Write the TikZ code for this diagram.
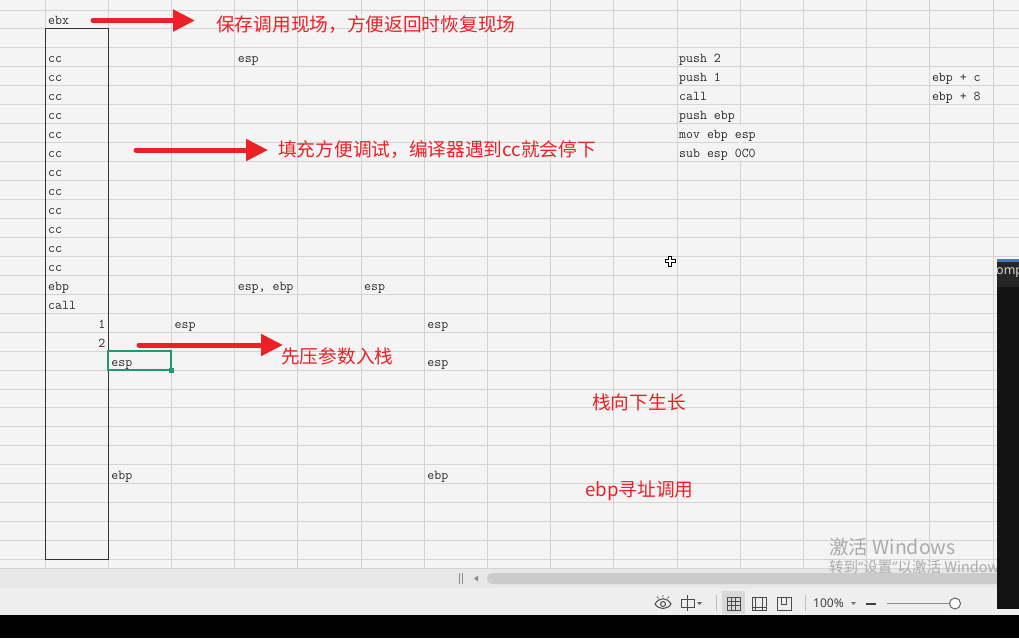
\documentclass[tikz,border=0pt]{standalone}
\usepackage{fontspec}
\newfontfamily\cjk{Noto Sans CJK SC}
\newfontfamily\uifont{Noto Sans}
\usetikzlibrary{arrows.meta}
\definecolor{bgc}{HTML}{F4F4F4}
\definecolor{gridc}{HTML}{D3D3D3}
\definecolor{redc}{HTML}{EB2127}
\definecolor{selc}{HTML}{1F9B74}
\definecolor{inkc}{HTML}{2A2A2A}
\definecolor{bandc}{HTML}{E7E7E7}
\definecolor{statc}{HTML}{EEEEEE}
\definecolor{thumbc}{HTML}{CBCBCB}
\definecolor{winc}{HTML}{131313}
\definecolor{wmc}{HTML}{ABABAB}
\definecolor{bluec}{HTML}{2F7FD9}
\newcommand\RY[1]{10+18.95*(#1)}
\newcommand\CX[1]{45+63.2*(#1)}
\begin{document}
\begin{tikzpicture}[x=1pt,y=-1pt,
  cell/.style={anchor=base west,inner sep=0pt,text=inkc,font=\ttfamily\fontsize{13.5}{13.5}\selectfont},
  note/.style={anchor=west,inner sep=0pt,text=redc,font=\cjk\fontsize{18.7}{19}\selectfont},
  redarrow/.style={draw=redc,line width=5pt,line cap=round,-{Triangle[length=22pt,width=21pt]}},
  icon/.style={draw=black!70,line width=1pt}]
\useasboundingbox (0,0) rectangle (1019,638);
\fill[bgc] (0,0) rectangle (1019,568);
% grid
\foreach \k in {0,...,29} \draw[gridc,line width=1pt] (0,{\RY{\k}}) -- (1019,{\RY{\k}});
\foreach \k in {0,...,15} \draw[gridc,line width=1pt] ({\CX{\k}},0) -- ({\CX{\k}},568);
% overflow of long texts hides grid line
\fill[bgc] ({\CX{11}-1},{\RY{6}+0.8}) rectangle ({\CX{11}+1},{\RY{8}-0.8});
% stack box
\draw[black!80,line width=1pt] ({\CX{0}},{\RY{1}}) rectangle ({\CX{1}},{\RY{29}});
% selection
\draw[selc,line width=2pt] ({\CX{1}},{\RY{18}}) rectangle ({\CX{2}},{\RY{19}});
\fill[selc] ({\CX{2}-2.5},{\RY{19}-2.5}) rectangle ({\CX{2}+2.5},{\RY{19}+2.5});
% cell texts (baseline 4px above the row's lower line)
\node[cell] (ebx) at (48,{\RY{1}-4}) {ebx};
\foreach \i in {2,...,13} \node[cell] (cc\i) at (48,{\RY{\i+1}-4}) {cc};
\node[cell] (ebpA) at (48,{\RY{15}-4}) {ebp};
\node[cell] (callA) at (48,{\RY{16}-4}) {call};
\node[cell,anchor=base east] (one) at (105.5,{\RY{17}-4}) {1};
\node[cell,anchor=base east] (two) at (105.5,{\RY{18}-4}) {2};
\node[cell] (espA) at ({\CX{3}+3},{\RY{3}-4}) {esp};
\node[cell] (espebp) at ({\CX{3}+3},{\RY{15}-4}) {esp,~ebp};
\node[cell] (espB) at ({\CX{5}+3},{\RY{15}-4}) {esp};
\node[cell] (espC) at ({\CX{2}+3},{\RY{17}-4}) {esp};
\node[cell] (espD) at ({\CX{6}+3},{\RY{17}-4}) {esp};
\node[cell] (espE) at ({\CX{1}+3},{\RY{19}-4}) {esp};
\node[cell] (espF) at ({\CX{6}+3},{\RY{19}-4}) {esp};
\node[cell] (ebpB) at ({\CX{1}+3},{\RY{25}-4}) {ebp};
\node[cell] (ebpC) at ({\CX{6}+3},{\RY{25}-4}) {ebp};
\node[cell] (i1) at ({\CX{10}+2},{\RY{3}-4}) {push 2};
\node[cell] (i2) at ({\CX{10}+2},{\RY{4}-4}) {push 1};
\node[cell] (i3) at ({\CX{10}+2},{\RY{5}-4}) {call};
\node[cell] (i4) at ({\CX{10}+2},{\RY{6}-4}) {push ebp};
\node[cell] (i5) at ({\CX{10}+2},{\RY{7}-4}) {mov ebp esp};
\node[cell] (i6) at ({\CX{10}+2},{\RY{8}-4}) {sub esp 0C0};
\node[cell] (o1) at ({\CX{14}+2},{\RY{4}-4}) {ebp + c};
\node[cell] (o2) at ({\CX{14}+2},{\RY{5}-4}) {ebp + 8};
% red notes and arrows
\node[note] (n1) at (216,25) {保存调用现场，方便返回时恢复现场};
\node[note] (n2) at (278,150) {填充方便调试，编译器遇到cc就会停下};
\node[note] (n3) at (281,356) {先压参数入栈};
\node[note] (n4) at (592,402) {栈向下生长};
\node[note] (n5) at (585,491) {ebp寻址调用};
\coordinate (a1s) at (93,20.5);  \coordinate (a1e) at (195,20.5);
\coordinate (a2s) at (136,150);  \coordinate (a2e) at (268,150);
\coordinate (a3s) at (139,345);  \coordinate (a3e) at (283,345);
\draw[redarrow] (a1s) -- (a1e);
\draw[redarrow] (a2s) -- (a2e);
\draw[redarrow] (a3s) -- (a3e);
% move cursor
\coordinate (cur) at (670,261);
\draw[black,line width=3.2pt] ([xshift=-5.5pt]cur) -- ([xshift=5.5pt]cur) ([yshift=-5.5pt]cur) -- ([yshift=5.5pt]cur);
\draw[white,line width=1.3pt] ([xshift=-4.5pt]cur) -- ([xshift=4.5pt]cur) ([yshift=-4.5pt]cur) -- ([yshift=4.5pt]cur);
% bottom bars
\fill[bandc] (0,568) rectangle (1019,588);
\draw[gridc] (0,568) -- (1019,568);
\fill[thumbc,rounded corners=5pt] (487,573) rectangle (1010,584);
\draw[black!45,line width=0.8pt] (459,573) -- (459,584) (462,573) -- (462,584);
\fill[black!45] (474,578.5) -- (478,575.5) -- (478,581.5) -- cycle;
\fill[statc] (0,588) rectangle (1019,615);
% status icons
\draw[icon] (655,604) .. controls (659,597) and (667,597) .. (671,604) .. controls (667,610) and (659,610) .. (655,604);
\draw[icon] (663,604) circle (2.5);
\draw[icon,line width=0.7pt] (663,595) -- (663,597) (657,596.5) -- (658.5,598.5) (669,596.5) -- (667.5,598.5);
\draw[icon] (681,599) rectangle (694,607) (687.5,595) -- (687.5,611);
\fill[black!60] (697,602) -- (702,602) -- (699.5,605) -- cycle;
\draw[black!25] (716,595) -- (716,611);
\fill[black!15] (722,591) rectangle (745,614);
\draw[icon] (727,597) rectangle (740,610) (731.3,597) -- (731.3,610) (735.6,597) -- (735.6,610) (727,601.3) -- (740,601.3) (727,605.6) -- (740,605.6);
\draw[icon] (752,597) rectangle (766,610) (755.5,597) -- (755.5,610) (762.5,597) -- (762.5,610) (752,607) -- (766,607);
\draw[icon] (777,597) rectangle (791,610) (781.5,597) -- (781.5,604) -- (786,604) -- (786,597);
\draw[black!25] (805,595) -- (805,611);
\node[anchor=west,inner sep=0pt,text=black!75,font=\uifont\fontsize{12}{12}\selectfont] (zoom) at (813,603.5) {100\%};
\fill[black!55] (851,602) -- (856,602) -- (853.5,605) -- cycle;
\draw[black!75,line width=2pt] (866,603.5) -- (876,603.5);
\draw[black!45,line width=1.5pt] (887,603.5) -- (950,603.5);
\draw[black!60,fill=white,line width=1pt] (955,603.5) circle (5.5);
\fill[black] (0,615) rectangle (1019,638);
% watermark
\node[anchor=west,inner sep=0pt,text=wmc,font=\cjk\fontsize{19.5}{20}\selectfont] (wm1) at (829,547) {激活 Windows};
\node[anchor=west,inner sep=0pt,text=wmc,font=\cjk\fontsize{14.5}{15}\selectfont] (wm2) at (829,567) {转到{\uifont“}设置{\uifont”}以激活 Windows};
% dark window at the right
\fill[winc] (997,260) rectangle (1019,609);
\fill[black!85] (997,260) rectangle (1019,287);
\fill[bluec] (997,258.5) rectangle (1019,261.5);
\node[anchor=west,inner sep=0pt,text=white!85!black,font=\uifont\fontsize{12.5}{13}\selectfont] (wt) at (996,273) {omp};
\end{tikzpicture}
\end{document}
